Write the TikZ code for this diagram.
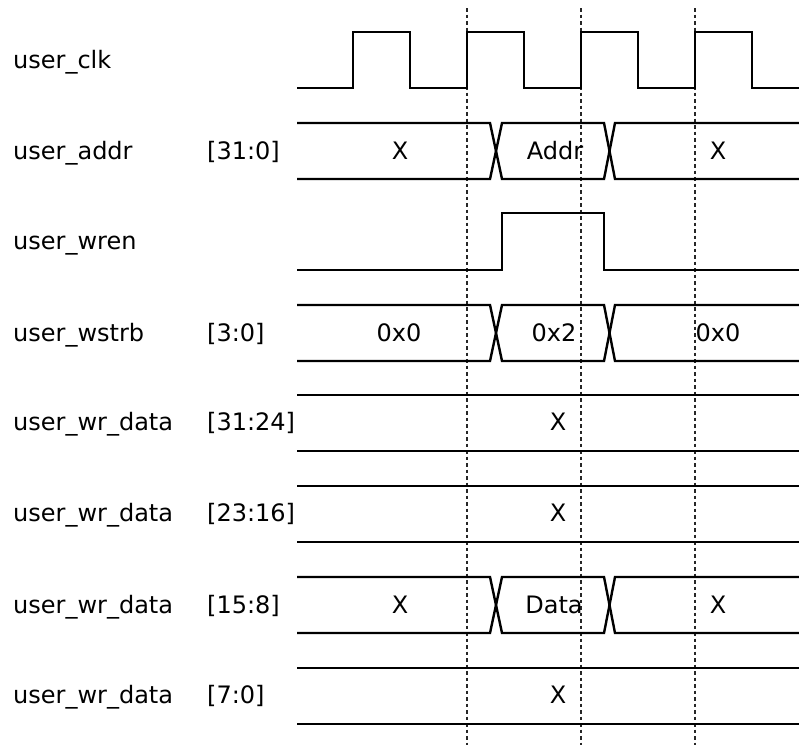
\documentclass[tikz,border=0pt]{standalone}
\usepackage{fontspec}
\setmainfont{DejaVu Sans}
\usepackage{tikz}
\usetikzlibrary{positioning}

\begin{document}
\begin{tikzpicture}[
  x=1pt, y=-1pt,
  every node/.style={font=\fontsize{24pt}{28pt}\selectfont, inner sep=0pt},
  wave/.style={line width=2.4pt, black},
  guide/.style={line width=1.3pt, black!85, dash pattern=on 3.5pt off 3pt},
  signame/.style={anchor=base west},
  buswidth/.style={anchor=base west},
  busval/.style={anchor=base},
]
\useasboundingbox (0,0) rectangle (799,745);

% === Guides (clock edges) ===
\foreach \g in {467,581,695}
  \draw[guide] (\g,8) -- (\g,745);

% === Signal names ===
\node[signame] (n-clk)  at (13,68)  {user\_clk};
\node[signame] (n-addr) at (13,159) {user\_addr};
\node[signame] (n-wren) at (13,249) {user\_wren};
\node[signame] (n-strb) at (13,341) {user\_wstrb};
\node[signame] (n-d3)   at (13,430) {user\_wr\_data};
\node[signame] (n-d2)   at (13,521) {user\_wr\_data};
\node[signame] (n-d1)   at (13,613) {user\_wr\_data};
\node[signame] (n-d0)   at (13,703) {user\_wr\_data};

\node[buswidth] (w-addr) at (207,159) {[31:0]};
\node[buswidth] (w-strb) at (207,341) {[3:0]};
\node[buswidth] (w-d3)   at (207,430) {[31:24]};
\node[buswidth] (w-d2)   at (207,521) {[23:16]};
\node[buswidth] (w-d1)   at (207,613) {[15:8]};
\node[buswidth] (w-d0)   at (207,703) {[7:0]};

% === user_clk ===
\draw[wave] (297,88)
  \foreach \r in {353,467,581,695} { -- (\r,88) -- (\r,32) -- ({\r+57},32) -- ({\r+57},88) }
  -- (799,88);

% === user_wren ===
\draw[wave] (297,270) -- (502,270) -- (502,213) -- (604,213) -- (604,270) -- (799,270);

% === Buses with two transitions ===
\foreach \yc in {151,333,605} {
  \draw[wave] (297,{\yc-28}) -- (490,{\yc-28}) -- (502,{\yc+28}) -- (604,{\yc+28})
    -- (615,{\yc-28}) -- (799,{\yc-28});
  \draw[wave] (297,{\yc+28}) -- (490,{\yc+28}) -- (502,{\yc-28}) -- (604,{\yc-28})
    -- (615,{\yc+28}) -- (799,{\yc+28});
}

% === Constant buses ===
\foreach \yc in {423,514,696} {
  \draw[wave] (297,{\yc-28}) -- (799,{\yc-28});
  \draw[wave] (297,{\yc+28}) -- (799,{\yc+28});
}

% === Bus values ===
\node[busval] (v-addr-a) at (400,159) {X};
\node[busval] (v-addr-b) at (555,159) {Addr};
\node[busval] (v-addr-c) at (718,159) {X};

\node[busval] (v-strb-a) at (399,341) {0x0};
\node[busval] (v-strb-b) at (554,341) {0x2};
\node[busval] (v-strb-c) at (718,341) {0x0};

\node[busval] (v-d3) at (558,430) {X};
\node[busval] (v-d2) at (558,521) {X};

\node[busval] (v-d1-a) at (400,613) {X};
\node[busval] (v-d1-b) at (554,613) {Data};
\node[busval] (v-d1-c) at (718,613) {X};

\node[busval] (v-d0) at (558,703) {X};
\end{tikzpicture}
\end{document}
